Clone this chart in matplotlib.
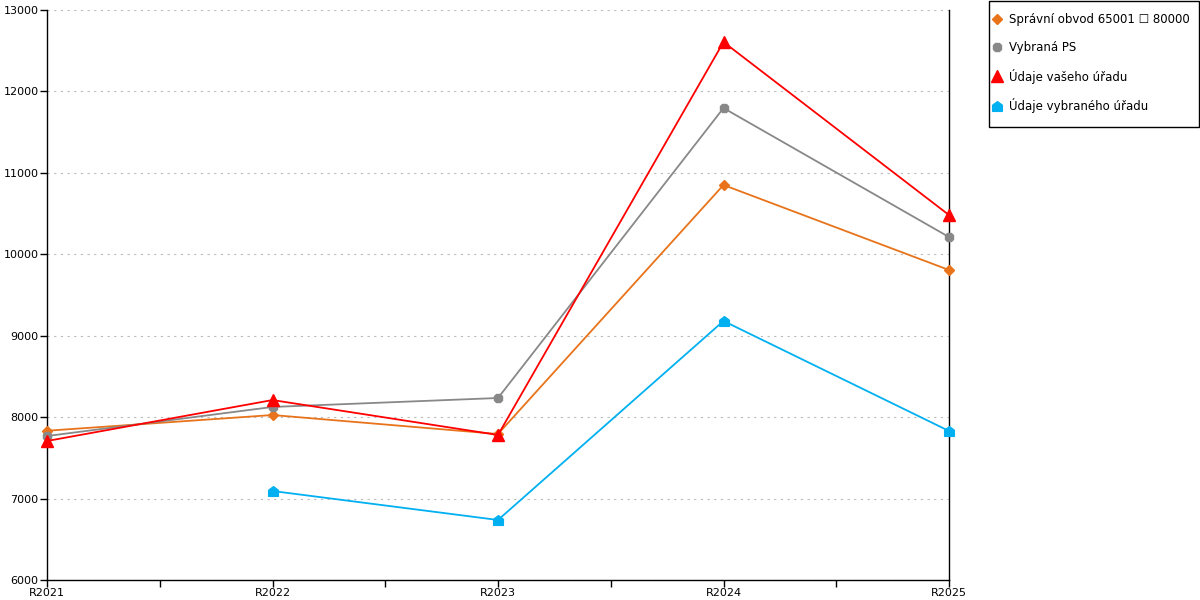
import matplotlib
matplotlib.use("Agg")
import matplotlib.pyplot as plt
from matplotlib.path import Path
from matplotlib.lines import Line2D
from matplotlib.patches import Rectangle
import numpy as np

# DATA
years = ["R2021", "R2022", "R2023", "R2024", "R2025"]
obvod = [7833, 8026, 7793, 10851, 9807]
vybrana_ps = [7768, 8125, 8235, 11796, 10212]
vas_urad = [7707, 8210, 7781, 12607, 10482]
vybrany_urad = [np.nan, 7093, 6737, 9181, 7830]

labels = ["Správní obvod 65001 \u2610 80000", "Vybraná PS",
          "Údaje vašeho úřadu", "Údaje vybraného úřadu"]

# house shaped marker
house = Path([(-1, -1), (1, -1), (1, 0.25), (0, 1), (-1, 0.25), (-1, -1)],
             [Path.MOVETO, Path.LINETO, Path.LINETO, Path.LINETO, Path.LINETO, Path.CLOSEPOLY])

plt.rcParams['font.family'] = ['DejaVu Sans']
plt.rcParams['font.size'] = 8

W, H = 1200, 600
fig = plt.figure(figsize=(12, 6), dpi=100)
ax = fig.add_axes([47 / W, 20 / H, 902 / W, 570 / H])

series = [
    (obvod, "#e8731a", "D", 5),
    (vybrana_ps, "#888888", "8", 7),
    (vas_urad, "#ff0000", "^", 8),
    (vybrany_urad, "#00b0f0", house, 7),
]

x = np.arange(len(years))
handles = []
for (vals, col, mk, ms), lab in zip(series, labels):
    ax.plot(x, vals, color=col, lw=1.3, marker=mk, ms=ms, clip_on=False, zorder=3)
    handles.append(Line2D([], [], color=col, marker=mk, ms=ms, linestyle="none"))

ax.set_xlim(0, len(years) - 1)
ax.set_ylim(6000, 13000)
ax.set_xticks(x)
ax.set_xticklabels(years)
ax.set_xticks(x[:-1] + 0.5, minor=True)
ax.set_yticks(np.arange(6000, 13001, 1000))
ax.tick_params(axis="both", which="both", direction="out", length=5, width=1, pad=1, colors="black")
ax.yaxis.grid(True, linestyle=(0, (2, 4)), color="#bbbbbb", lw=0.8)
ax.set_axisbelow(True)

ax.spines["top"].set_visible(False)
for s in ["left", "right", "bottom"]:
    ax.spines[s].set_color("black")
    ax.spines[s].set_linewidth(1)

# legend box drawn by hand, entries without frame
fig.patches.append(Rectangle((988.5 / W, 1 - 126.5 / H), 210 / W, 126 / H,
                             transform=fig.transFigure, fill=False,
                             edgecolor="black", lw=1))
fig.legend(handles=handles, labels=labels, loc="upper left",
           bbox_to_anchor=(993 / W, 1 - 13 / H), fontsize=8.5, frameon=False,
           handlelength=0.7, handletextpad=0.65, labelspacing=1.25,
           borderpad=0, borderaxespad=0)

fig.savefig("out.png", dpi=100)
